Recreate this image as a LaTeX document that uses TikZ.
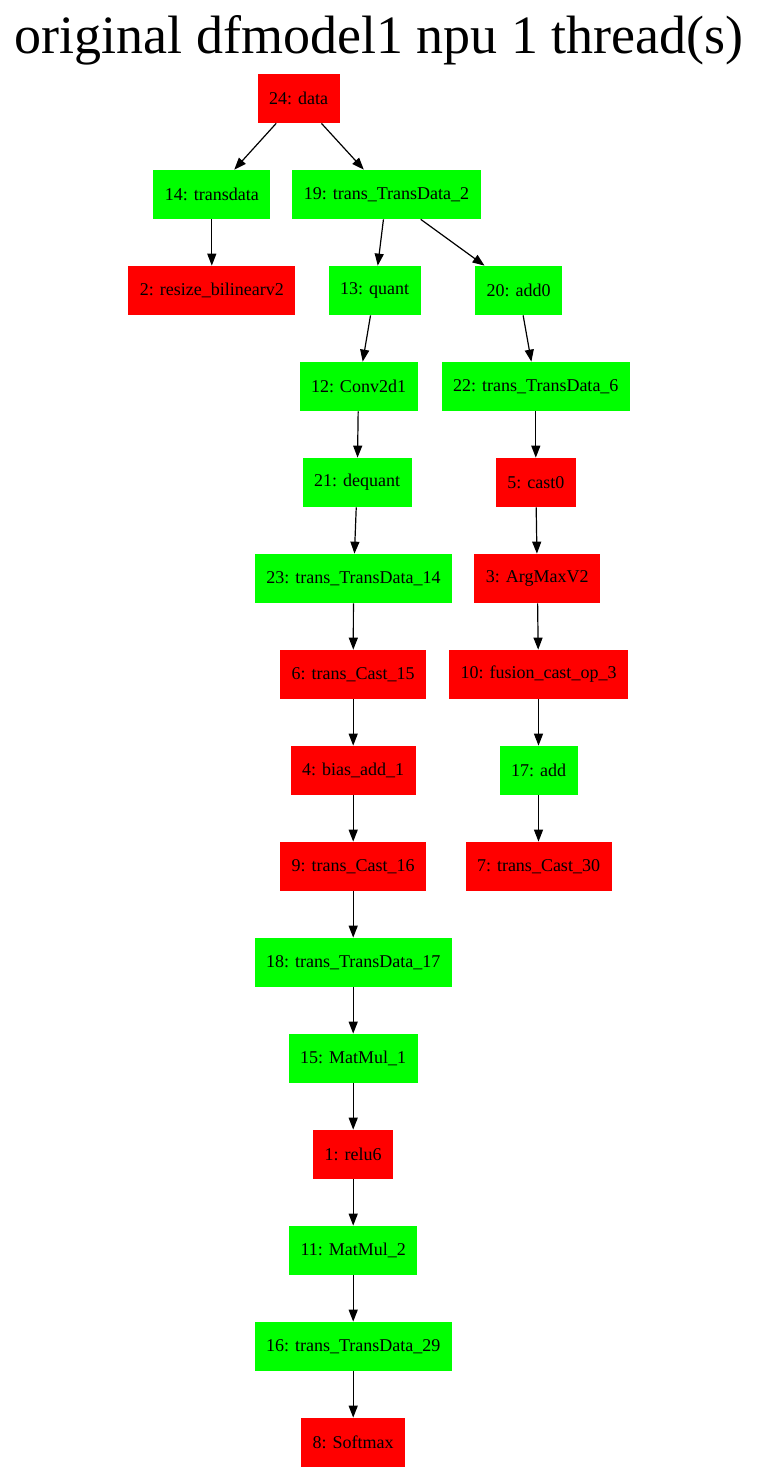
\documentclass[tikz,border=0pt]{standalone}
\usepackage{fontspec}
\setmainfont{Liberation Serif}
\usetikzlibrary{arrows.meta}

\begin{document}
\begin{tikzpicture}[x=1pt, y=-1pt,
    op/.style={rectangle, minimum height=48.5pt, inner xsep=11.5pt,
      font=\fontsize{18}{20}\selectfont},
    cpu/.style={op, fill=red}, npu/.style={op, fill=green},
    >={Triangle[length=12pt,width=9pt]}, line width=1.2pt]

  \useasboundingbox (0,0) rectangle (759,1472);
  \node[anchor=base, font=\fontsize{54}{60}\selectfont] (title) at (379,53)
    {original dfmodel1 npu 1 thread(s)};

  \node[cpu] (n24) at (298.7,98.5) {24: data};
  \node[npu] (n14) at (211.8,194.5) {14: transdata};
  \node[npu] (n19) at (386.5,194.5) {19: trans\_TransData\_2};
  \node[cpu] (n2) at (211.8,290.5) {2: resize\_bilinearv2};
  \node[npu] (n13) at (374.7,290.5) {13: quant};
  \node[npu] (n20) at (518.7,290.5) {20: add0};
  \node[npu] (n12) at (358.5,386.5) {12: Conv2d1};
  \node[npu] (n22) at (535.8,386.5) {22: trans\_TransData\_6};
  \node[npu] (n21) at (357.2,482.5) {21: dequant};
  \node[cpu] (n5) at (535.8,482.5) {5: cast0};
  \node[npu] (n23) at (353.5,578.5) {23: trans\_TransData\_14};
  \node[cpu] (n3) at (537.3,578.5) {3: ArgMaxV2};
  \node[cpu] (n6) at (353.2,674.5) {6: trans\_Cast\_15};
  \node[cpu] (n10) at (538.5,674.5) {10: fusion\_cast\_op\_3};
  \node[cpu] (n4) at (353.2,770.5) {4: bias\_add\_1};
  \node[npu] (n17) at (538.5,770.5) {17: add};
  \node[cpu] (n9) at (353.2,866.5) {9: trans\_Cast\_16};
  \node[cpu] (n7) at (538.5,866.5) {7: trans\_Cast\_30};
  \node[npu] (n18) at (353.2,962.5) {18: trans\_TransData\_17};
  \node[npu] (n15) at (353.2,1058.5) {15: MatMul\_1};
  \node[cpu] (n1) at (353.2,1154.5) {1: relu6};
  \node[npu] (n11) at (353.2,1250.5) {11: MatMul\_2};
  \node[npu] (n16) at (353.2,1346.5) {16: trans\_TransData\_29};
  \node[cpu] (n8) at (353.2,1442.5) {8: Softmax};

  \foreach \a/\b in {n24/n14, n24/n19, n14/n2, n19/n13, n19/n20, n13/n12,
      n12/n21, n21/n23, n23/n6, n6/n4, n4/n9, n9/n18, n18/n15, n15/n1,
      n1/n11, n11/n16, n16/n8, n20/n22, n22/n5, n5/n3, n3/n10, n10/n17,
      n17/n7}
    \draw[->] (\a) -- (\b);
\end{tikzpicture}
\end{document}
